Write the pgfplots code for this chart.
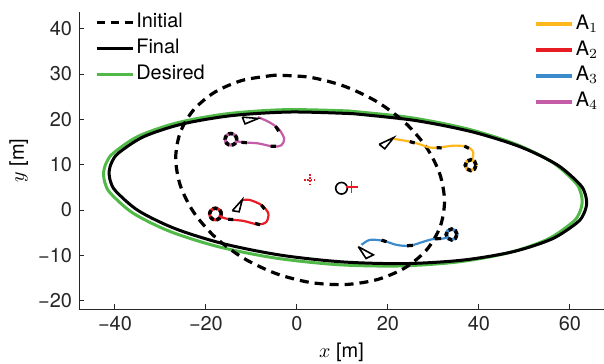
\documentclass[border=0pt]{standalone}
\usepackage{fontspec}
\setmainfont{TeX Gyre Heros}
\usepackage{pgfplots}
\pgfplotsset{compat=1.18}
\definecolor{cA}{RGB}{255,184,28}
\definecolor{cB}{RGB}{232,28,36}
\definecolor{cC}{RGB}{60,140,205}
\definecolor{cD}{RGB}{196,92,168}
\definecolor{cG}{RGB}{80,185,72}
\definecolor{axc}{RGB}{38,38,38}
\pgfplotsset{
  legimg/.style={legend image code/.code={\draw[##1] (0bp,0bp) -- (18bp,0bp);}},
  common/.style={
    scale only axis, width=262.5bp, height=148.5bp,
    xmin=-47.9, xmax=67.5, ymin=-21.85, ymax=43.7,
  },
  legsty/.style={legend style={draw=none, fill=none, inner sep=0pt, outer sep=0pt,
      font=\fontsize{10}{12}\selectfont, row sep=0.8bp,
      nodes={text height=7.6pt, text depth=2.6pt, inner sep=1pt},
      /tikz/every even column/.append style={column sep=3.5bp}},
    legend cell align=left, legimg},
}
\begin{document}
\begin{tikzpicture}
\begin{axis}[common, legsty,
  axis x line*=bottom, axis y line*=left,
  axis line style={axc, line width=0.5bp},
  tick align=inside, major tick length=2.5bp,
  tick style={axc, line width=0.5bp},
  xtick={-40,-20,0,20,40,60}, xticklabels={−40,−20,0,20,40,60},
  ytick={-20,-10,0,10,20,30,40}, yticklabels={−20,−10,0,10,20,30,40},
  ticklabel style={font=\fontsize{10}{12}\selectfont, text=axc},
  xlabel={$x$ [m]}, ylabel={$y$ [m]},
  xlabel style={at={(axis description cs:0.5,-0.1636)}, anchor=base, font=\fontsize{10}{12}\selectfont},
  ylabel style={at={(axis description cs:-0.1048,0.5)}, anchor=base, font=\fontsize{10}{12}\selectfont},
  legend style={at={(axis description cs:0.03,1.005)}, anchor=north west},
]
\addlegendimage{black, line width=1.6bp, dash pattern=on 4bp off 3bp}
\addlegendentry{Initial}
\addlegendimage{black, line width=1.8bp}
\addlegendentry{Final}
\addlegendimage{cG, line width=1.8bp}
\addlegendentry{Desired}

% Desired
\addplot[forget plot, cG, line width=1.5bp, smooth] coordinates {
(11.17,21.87) (-2.48,22.15) (-15.28,21.25) (-26.34,19.24) (-34.92,16.25) (-40.43,12.49)
(-41.91,10.40) (-42.50,8.21) (-42.19,5.97) (-40.99,3.70) (-35.98,-0.72) (-27.84,-4.76) (-17.12,-8.14) (-4.54,-10.63)
(9.03,-12.07) (22.68,-12.35) (35.48,-11.45) (46.54,-9.44) (55.12,-6.45) (60.63,-2.69)
(62.11,-0.60) (62.70,1.59) (62.39,3.83) (61.19,6.10) (56.18,10.52) (48.05,14.56) (37.32,17.94) (24.74,20.43)
(11.17,21.87)};
% Final
\addplot[forget plot, black, line width=1.5bp, smooth] coordinates {
(12.32,21.26) (-1.30,21.63) (-14.07,20.86) (-25.12,19.00) (-33.69,16.18) (-39.20,12.59)
(-40.68,10.58) (-41.28,8.48) (-40.98,6.31) (-39.78,4.12) (-34.81,-0.18) (-26.70,-4.14) (-16.01,-7.48) (-3.46,-9.98)
(10.09,-11.46) (23.70,-11.83) (36.47,-11.06) (47.52,-9.20) (56.09,-6.38) (61.60,-2.79)
(63.08,-0.78) (63.68,1.32) (63.38,3.49) (62.18,5.68) (57.21,9.98) (49.10,13.94) (38.41,17.28) (25.86,19.78)
(12.32,21.26)};
% Initial
\addplot[forget plot, black, line width=1.6bp, dash pattern=on 4.5bp off 3bp, smooth] coordinates {
(-4.87,29.75) (-11.98,28.62) (-18.08,25.99) (-22.75,22.05)
(-25.67,17.05) (-26.65,11.35) (-25.60,5.32) (-22.62,-0.61) (-17.90,-6.05) (-11.76,-10.62)
(-4.62,-14.02) (3.03,-16.01) (10.67,-16.45) (17.78,-15.32) (23.88,-12.69) (28.55,-8.75)
(31.47,-3.75) (32.45,1.95) (31.40,7.98) (28.42,13.91) (23.70,19.35) (17.56,23.92)
(10.42,27.32) (2.77,29.31) (-4.87,29.75)};

% centres
\addplot[forget plot, only marks, mark=o, mark size=2.9bp, black, line width=0.8bp] coordinates {(9.8,4.8)};
\addplot[forget plot, only marks, mark=+, mark size=3bp, color=cB, line width=0.9bp, mark options={solid, draw=cB}] coordinates {(12.0,5.0)};
\addplot[forget plot, only marks, mark=+, mark size=3bp, color=cB, line width=0.9bp, mark options={draw=cB, dash pattern=on 0.8bp off 0.8bp}] coordinates {(2.9,6.6)};

% A1
\addplot[forget plot, cA, line width=1.1bp, smooth] coordinates {
(21.3,15.7) (24.8,15.1) (27.0,14.5) (29.2,13.8) (31.4,13.8) (34.4,14.2) (37.3,14.0) (38.7,12.9) (38.6,11.4) (38.3,11.0)};
\addplot[forget plot, black, line width=0.8bp, fill=white] coordinates {(18.1,14.5) (21.3,16.0) (19.3,13.5) (18.1,14.5)};
% A2
\addplot[forget plot, cB, line width=1.1bp, smooth] coordinates {
(-11.9,2.2) (-10.3,2.2) (-7.8,1.1) (-6.3,-0.7) (-6.7,-2.6) (-8.5,-3.2) (-11.8,-2.4) (-14.7,-2.1) (-16.5,-1.6) (-17.2,-1.2)};
\addplot[forget plot, black, line width=0.8bp, fill=white] coordinates {(-14.2,-0.15) (-12.0,2.3) (-12.7,-0.4) (-14.2,-0.15)};
% A3
\addplot[forget plot, cC, line width=1.1bp, smooth] coordinates {
(14.2,-7.7) (16.0,-6.6) (19.0,-6.8) (21.9,-7.7) (24.8,-7.9) (27.8,-7.0) (30.0,-6.4) (32.2,-6.3) (33.2,-5.9)};
\addplot[forget plot, black, line width=0.8bp, fill=white] coordinates {(13.5,-8.1) (15.2,-10.7) (16.8,-9.9) (13.5,-8.1)};
% A4
\addplot[forget plot, cD, line width=1.1bp, smooth] coordinates {
(-8.6,20.5) (-6.3,19.5) (-4.1,18.0) (-2.8,15.8) (-3.4,14.3) (-5.2,14.0) (-8.5,14.7) (-11.4,14.9) (-12.9,15.1) (-13.6,15.3)};
\addplot[forget plot, black, line width=0.8bp, fill=white] coordinates {(-12.0,20.5) (-8.5,20.2) (-11.4,19.0) (-12.0,20.5)};

% loops
\addplot[forget plot, only marks, mark=o, mark size=2.7bp, cA, line width=1.5bp] coordinates {(38.2,9.9)};
\addplot[forget plot, only marks, mark=o, mark size=2.7bp, black, line width=1.8bp, mark options={dash pattern=on 2.2bp off 1.3bp}] coordinates {(38.2,9.9)};
\addplot[forget plot, only marks, mark=o, mark size=2.9bp, cB, line width=1.5bp] coordinates {(-17.9,-0.9)};
\addplot[forget plot, only marks, mark=o, mark size=2.9bp, black, line width=1.8bp, mark options={dash pattern=on 2.2bp off 1.3bp}] coordinates {(-17.9,-0.9)};
\addplot[forget plot, only marks, mark=o, mark size=2.7bp, cC, line width=1.5bp] coordinates {(34.0,-5.4)};
\addplot[forget plot, only marks, mark=o, mark size=2.7bp, black, line width=1.8bp, mark options={dash pattern=on 2.2bp off 1.3bp}] coordinates {(34.0,-5.4)};
\addplot[forget plot, only marks, mark=o, mark size=2.9bp, cD, line width=1.5bp] coordinates {(-14.5,15.6)};
\addplot[forget plot, only marks, mark=o, mark size=2.9bp, black, line width=1.8bp, mark options={dash pattern=on 2.2bp off 1.3bp}] coordinates {(-14.5,15.6)};

% black heading dashes
\addplot[forget plot, black, line width=1.6bp] coordinates {(24.8,15.1) (25.9,14.8)};
\addplot[forget plot, black, line width=1.6bp] coordinates {(30.7,13.75) (31.8,13.7)};
\addplot[forget plot, black, line width=1.6bp] coordinates {(36.8,14.1) (37.8,13.6)};
\addplot[forget plot, black, line width=1.6bp] coordinates {(-7.8,1.1) (-7.1,0.2)};
\addplot[forget plot, black, line width=1.6bp] coordinates {(-9.2,-2.95) (-8.1,-3.25)};
\addplot[forget plot, black, line width=1.6bp] coordinates {(-15.1,-2.05) (-14.0,-2.1)};
\addplot[forget plot, black, line width=1.6bp] coordinates {(18.6,-6.65) (19.7,-7.0)};
\addplot[forget plot, black, line width=1.6bp] coordinates {(24.2,-7.9) (25.5,-7.8)};
\addplot[forget plot, black, line width=1.6bp] coordinates {(30.3,-6.35) (31.7,-6.3)};
\addplot[forget plot, black, line width=1.6bp] coordinates {(-4.7,18.5) (-4.0,17.4)};
\addplot[forget plot, black, line width=1.6bp] coordinates {(-4.6,14.05) (-5.8,14.1)};
\addplot[forget plot, black, line width=1.6bp] coordinates {(-11.0,14.85) (-12.2,14.95)};
\end{axis}

\begin{axis}[common, legsty, hide axis,
  legend style={at={(axis description cs:1.0,1.0)}, anchor=north east, xshift=-2bp,
    /tikz/every even column/.append style={column sep=5bp}},
]
\addlegendimage{cA, line width=2.2bp}
\addlegendentry{A$_1$}
\addlegendimage{cB, line width=2.2bp}
\addlegendentry{A$_2$}
\addlegendimage{cC, line width=2.2bp}
\addlegendentry{A$_3$}
\addlegendimage{cD, line width=2.2bp}
\addlegendentry{A$_4$}
\end{axis}
\pgfresetboundingbox
\path (-39.5bp,-27.5bp) rectangle (262.5bp,154.5bp);
\end{tikzpicture}
\end{document}
